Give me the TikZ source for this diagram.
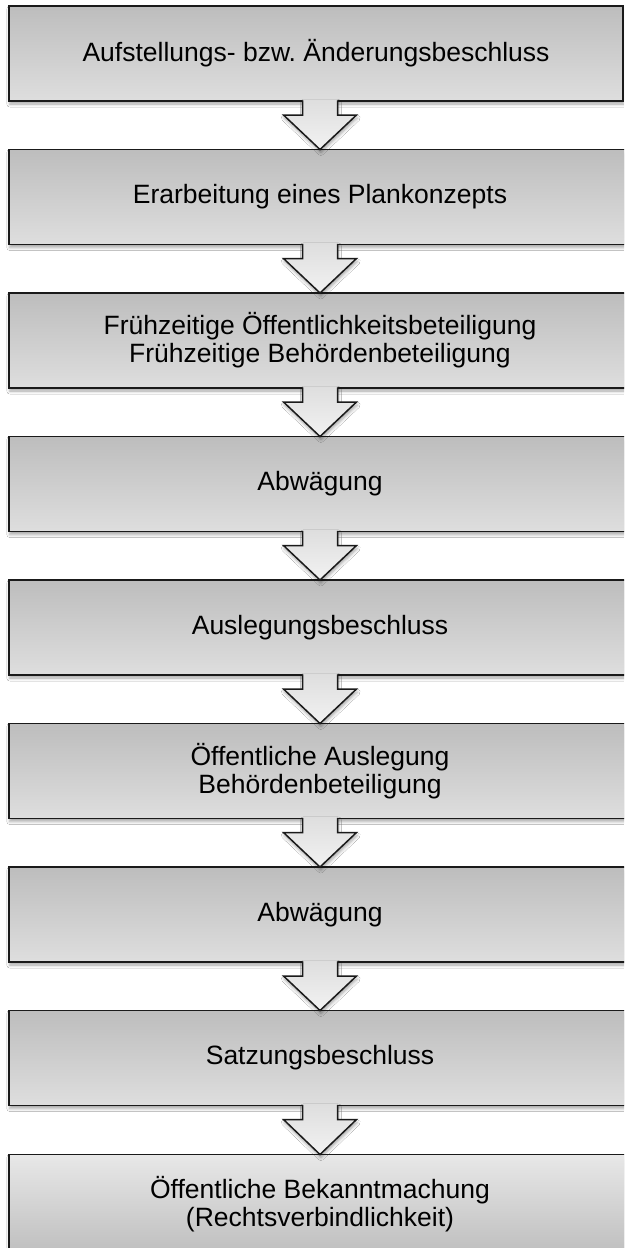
\documentclass[tikz,border=0pt]{standalone}
\usepackage{fontspec}
\setmainfont{Liberation Sans}
\usetikzlibrary{shadows.blur}
\definecolor{boxtop}{HTML}{BDBDBD}
\definecolor{boxbot}{HTML}{DEDEDE}
\definecolor{lasttop}{HTML}{E8E8E8}
\definecolor{lastbot}{HTML}{BEBEBE}
\definecolor{arrowbot}{HTML}{F2F2F2}
\definecolor{edge}{HTML}{1A1A1A}
\frenchspacing
\begin{document}
\begin{tikzpicture}[x=1pt,y=-1pt,
  softshadow/.style={blur shadow={shadow xshift=0.8pt, shadow yshift=-3pt, shadow blur radius=3pt, shadow opacity=35}},
  stepbox/.style={draw=edge, line width=1.5pt, top color=boxtop, bottom color=boxbot,
    minimum height=95pt, minimum width=622pt, inner sep=0pt, outer sep=0pt,
    align=center, font=\fontsize{26.5}{28}\selectfont, anchor=north, softshadow},
  laststep/.style={stepbox, top color=lasttop, bottom color=lastbot, minimum height=100pt},
  arrowbody/.style={top color=boxbot, bottom color=arrowbot, softshadow},
  arrowline/.style={draw=edge, line width=1.5pt, line join=miter},
]
\useasboundingbox (0,0) rectangle (624,1248);
\clip (0,0) rectangle (624,1248);
\fill[white] (0,0) rectangle (624,1248);
\node[stepbox, minimum width=614pt] (b1) at (316,6) {Aufstellungs- bzw. Änderungsbeschluss};
\node[stepbox] (b2) at (320,149.5) {Erarbeitung eines Plankonzepts};
\node[stepbox] (b3) at (320,293) {Frühzeitige Öffentlichkeitsbeteiligung\\Frühzeitige Behördenbeteiligung};
\node[stepbox] (b4) at (320,436.5) {Abwägung};
\node[stepbox] (b5) at (320,580) {Auslegungsbeschluss};
\node[stepbox] (b6) at (320,723.5) {Öffentliche Auslegung\\Behördenbeteiligung};
\node[stepbox] (b7) at (320,867) {Abwägung};
\node[stepbox] (b8) at (320,1010.5) {Satzungsbeschluss};
\node[laststep] (b9) at (320,1154.5) {Öffentliche Bekanntmachung\\(Rechtsverbindlichkeit)};
\coordinate (s1) at ([xshift=4pt]b1.south);
\foreach \i in {2,...,8}{
  \coordinate (s\i) at (b\i.south);
}
\foreach \i/\j in {1/2,2/3,3/4,4/5,5/6,6/7,7/8,8/9}{
  \path[arrowbody] ([shift={(-17.5,-1.6)}]s\i) -- ([shift={(-17.5,14)}]s\i) -- ([shift={(-36.5,14)}]s\i)
     -- (b\j.north) -- ([shift={(36.5,14)}]s\i) -- ([shift={(17.5,14)}]s\i) -- ([shift={(17.5,-1.6)}]s\i) -- cycle;
  \draw[arrowline] ([shift={(-17.5,-0.75)}]s\i) -- ([shift={(-17.5,14)}]s\i) -- ([shift={(-36.5,14)}]s\i)
     -- (b\j.north) -- ([shift={(36.5,14)}]s\i) -- ([shift={(17.5,14)}]s\i) -- ([shift={(17.5,-0.75)}]s\i);
}
\end{tikzpicture}
\end{document}
